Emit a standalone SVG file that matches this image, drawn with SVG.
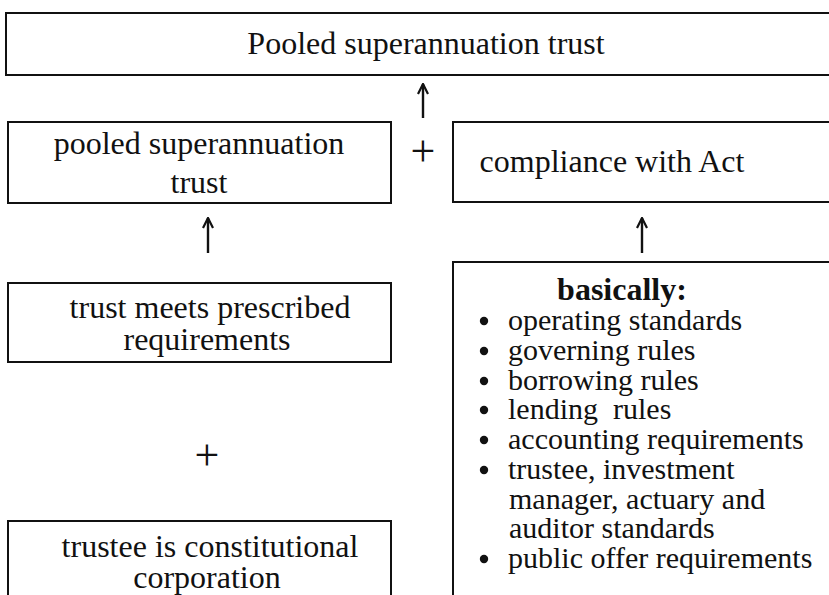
<svg xmlns="http://www.w3.org/2000/svg" width="829" height="595" viewBox="0 0 829 595">
<defs>
<style>
.box{fill:#fff;stroke:#111;stroke-width:2}
.t{font-size:32px;fill:#111;text-anchor:middle}
.l{font-size:30px;fill:#111}
.b{font-weight:bold;font-size:32px;text-anchor:middle}
.p{font-size:44px;fill:#111;text-anchor:middle}
.c{stroke:#111;stroke-width:2.4;fill:none}
</style>
<marker id="ah" viewBox="0 0 12 12" refX="11" refY="6" markerWidth="12" markerHeight="12" markerUnits="userSpaceOnUse" orient="auto">
<path d="M1,1 L11,6 L1,11" fill="none" stroke="#111" stroke-width="2.2" stroke-linejoin="miter"/>
</marker>
</defs>
<rect width="829" height="595" fill="#fff"/>
<g font-family="Liberation Serif, Times New Roman, serif">
<g id="top">
<rect class="box" x="6" y="13" width="830" height="62"/>
<text class="t" x="426" y="54">Pooled superannuation trust</text>
</g>
<g id="pooled">
<rect class="box" x="8" y="122" width="383" height="81"/>
<text class="t" x="199" y="154">pooled superannuation</text>
<text class="t" x="199" y="193">trust</text>
</g>
<g id="compliance">
<rect class="box" x="453" y="122" width="383" height="80"/>
<text class="t" x="612" y="172">compliance with Act</text>
</g>
<g id="meets">
<rect class="box" x="8" y="283" width="383" height="79"/>
<text class="t" x="210" y="318">trust meets prescribed</text>
<text class="t" x="207" y="350">requirements</text>
</g>
<g id="trustee">
<rect class="box" x="8" y="521" width="383" height="90"/>
<text class="t" x="210" y="557">trustee is constitutional</text>
<text class="t" x="207" y="588">corporation</text>
</g>
<g id="basically">
<rect class="box" x="453" y="262" width="383" height="350"/>
<text class="l b" x="622" y="300">basically:</text>
<g fill="#111">
<circle cx="484" cy="321" r="4.2"/><circle cx="484" cy="351" r="4.2"/><circle cx="484" cy="381" r="4.2"/><circle cx="484" cy="410" r="4.2"/><circle cx="484" cy="440" r="4.2"/><circle cx="484" cy="470" r="4.2"/><circle cx="484" cy="559" r="4.2"/>
</g>
<text class="l" x="508" y="330">operating standards</text>
<text class="l" x="508" y="360">governing rules</text>
<text class="l" x="508" y="390">borrowing rules</text>
<text class="l" x="508" y="419" xml:space="preserve">lending  rules</text>
<text class="l" x="508" y="449">accounting requirements</text>
<text class="l" x="508" y="479">trustee, investment</text>
<text class="l" x="509" y="509">manager, actuary and</text>
<text class="l" x="509" y="538">auditor standards</text>
<text class="l" x="508" y="568">public offer requirements</text>
</g>
<g id="plus">
<text class="p" x="423" y="166">+</text>
<text class="p" x="207" y="470">+</text>
</g>
</g>
<g id="connectors">
<line class="c" x1="423" y1="118" x2="423" y2="84" marker-end="url(#ah)"/>
<line class="c" x1="208" y1="253" x2="208" y2="218" marker-end="url(#ah)"/>
<line class="c" x1="642" y1="253" x2="642" y2="218" marker-end="url(#ah)"/>
</g>
</svg>
